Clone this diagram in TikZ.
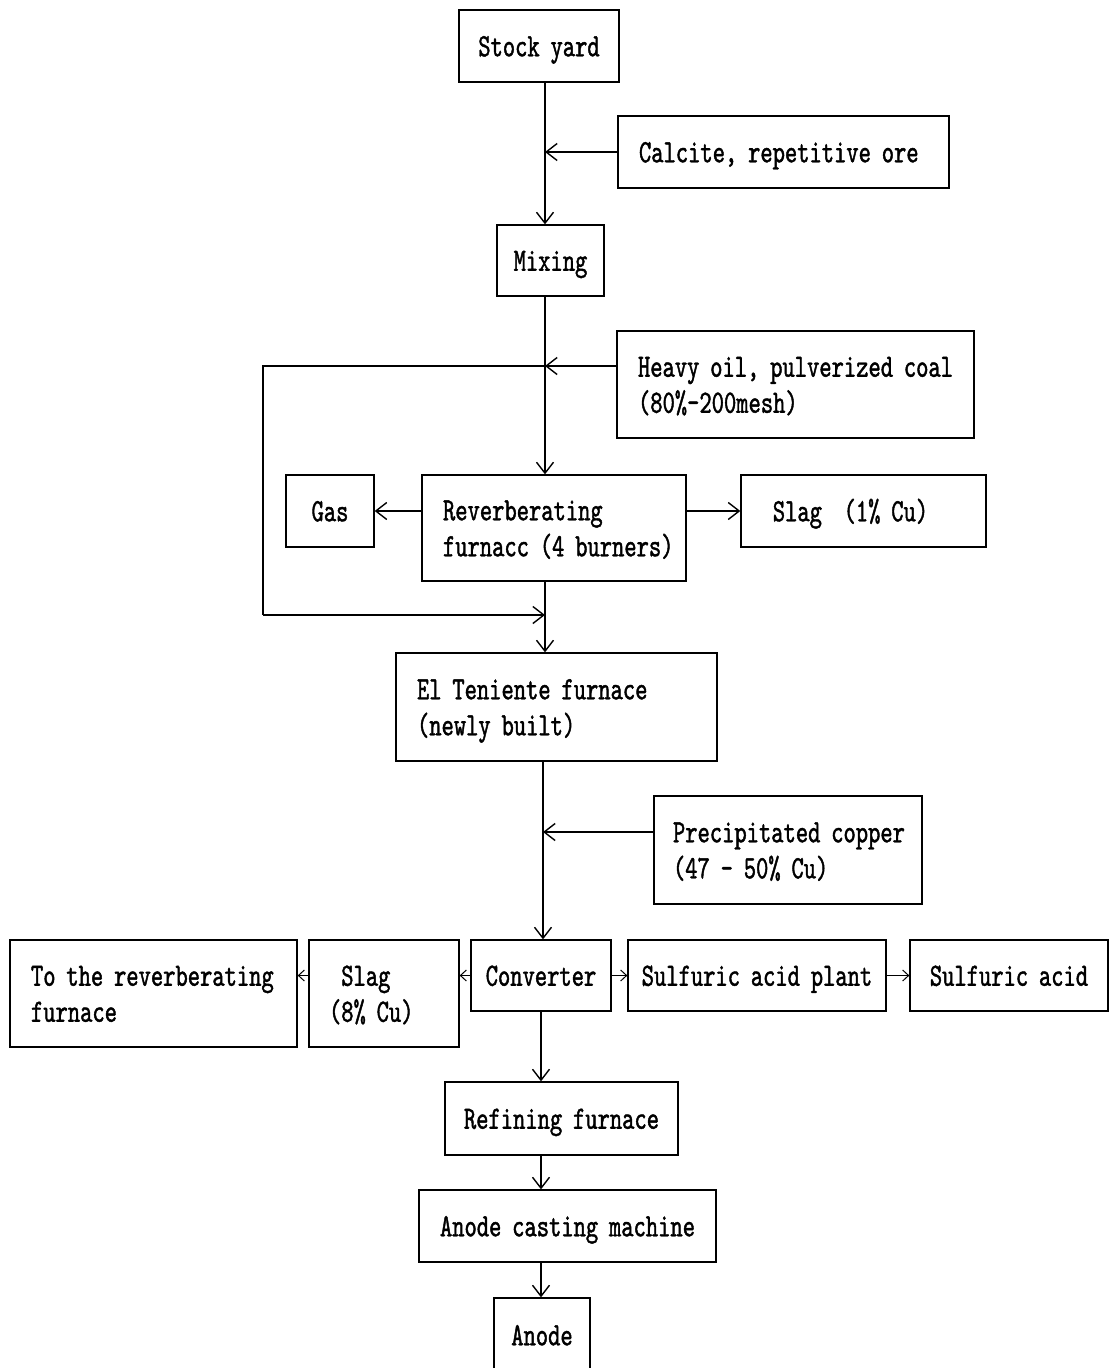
\documentclass[tikz,border=0pt]{standalone}
\usepackage{fontspec}
\usetikzlibrary{arrows.meta,calc}
\newfontfamily\diagfontface[FakeStretch=0.72,FakeBold=1.3]{lmmono10-regular.otf}
\newcommand{\diagfont}{\diagfontface\fontsize{32.5}{36}\selectfont}
\begin{document}
\begin{tikzpicture}[x=1pt,y=-1pt,
  box/.style={draw, line width=1.3pt, inner ysep=0pt, font=\diagfont,
    execute at begin node={\rule{0pt}{30.5pt}},
    execute at end node={\rule[-10pt]{0pt}{10pt}}},
  cbox/.style={box, inner xsep=0pt, align=center},
  lbox/.style={box, inner xsep=21pt, align=left},
  ln/.style={line width=1.4pt},
  arr/.style={ln, -{Straight Barb[length=11pt,width=17pt]}},
  sarr/.style={line width=1pt, -{Straight Barb[length=6pt,width=11pt]}}
]
\useasboundingbox (0,0) rectangle (1109,1368);
\fill[white] (0,0) rectangle (1109,1368);

\coordinate (m1) at (545,0);
\coordinate (m2) at (543,0);
\coordinate (m3) at (541,0);
\coordinate (loopx) at (263,0);
\coordinate (jn) at (545,615);

% boxes
\node[cbox, minimum width=160, minimum height=72, text width=160pt] (stock) at (539,46) {Stock yard};
\node[lbox, minimum width=331, minimum height=72, text width=289pt] (calcite) at (783.5,152) {\mbox{Calcite, repetitive ore}};
\node[cbox, minimum width=107, minimum height=71, text width=107pt] (mixing) at (550.5,260.5) {Mixing};
\node[lbox, minimum width=357, minimum height=107, text width=315pt] (heavy) at (795.5,384.5) {\mbox{Heavy oil, pulverized coal}\\\mbox{(80\%-200mesh)}};
\node[lbox, minimum width=264, minimum height=106, text width=222pt] (reverb) at (554,528) {\mbox{Reverberating}\\\mbox{furnacc (4 burners)}};
\node[cbox, minimum width=88, minimum height=72, text width=88pt] (gas) at (330,511) {Gas};
\node[lbox, minimum width=245, minimum height=72, text width=203pt, inner xsep=21pt] (slagA) at (863.5,511) {\mbox{\ Slag\ \ (1\% Cu)}};
\node[lbox, minimum width=321, minimum height=108, text width=279pt] (eltn) at (556.5,707) {\mbox{El Teniente furnace}\\\mbox{(newly built)}};
\node[lbox, minimum width=268, minimum height=108, text width=230pt, inner xsep=19pt] (precip) at (788,850) {\mbox{Precipitated copper}\\\mbox{(47 - 50\% Cu)}};
\node[lbox, minimum width=287, minimum height=107, text width=245pt] (toreverb) at (153.5,993.5) {\mbox{To the reverberating}\\\mbox{furnace}};
\node[lbox, minimum width=150, minimum height=107, text width=110pt, inner xsep=20pt] (slagB) at (384,993.5) {\mbox{\hphantom{(}Slag}\\\mbox{(8\% Cu)}};
\node[cbox, minimum width=140, minimum height=71, text width=140pt] (conv) at (541,975.5) {Converter};
\node[cbox, minimum width=258, minimum height=71, text width=258pt] (plant) at (757,975.5) {Sulfuric acid plant};
\node[cbox, minimum width=198, minimum height=71, text width=198pt] (acid) at (1009,975.5) {Sulfuric acid};
\node[cbox, minimum width=233, minimum height=73, text width=233pt] (refining) at (561.5,1118.5) {Refining furnace};
\node[cbox, minimum width=297, minimum height=72, text width=297pt] (casting) at (567.5,1226) {Anode casting machine};
\node[cbox, minimum width=96, minimum height=74, text width=96pt] (anode) at (542,1335) {Anode};

% connectors
\draw[arr] (stock.south -| m1) -- (mixing.north -| m1);
\draw[arr] (calcite.west) -- (calcite.west -| m1);
\draw[arr] (mixing.south -| m1) -- (reverb.north -| m1);
\coordinate (hin) at ($(heavy.west)+(0,-18.5)$);
\draw[arr] (hin) -- (hin -| m1);
\draw[ln] (hin -| m1) -- (hin -| loopx) -- (loopx |- jn);
\draw[arr] (loopx |- jn) -- (jn);
\draw[arr] (gas.east -| reverb.west) -- (gas.east);
\draw[arr] (slagA.west -| reverb.east) -- (slagA.west);
\draw[arr] (reverb.south -| m1) -- (eltn.north -| m1);
\draw[arr] (eltn.south -| m2) -- (conv.north -| m2);
\coordinate (pin) at ($(precip.west)+(0,-18)$);
\draw[arr] (pin) -- (pin -| m2);
\draw[sarr] (conv.west) -- (conv.west -| slagB.east);
\draw[sarr] (conv.west -| slagB.west) -- (conv.west -| toreverb.east);
\draw[sarr] (conv.east) -- (plant.west);
\draw[sarr] (plant.east) -- (acid.west);
\draw[arr] (conv.south -| m3) -- (refining.north -| m3);
\draw[arr] (refining.south -| m3) -- (casting.north -| m3);
\draw[arr] (casting.south -| m3) -- (anode.north -| m3);
\end{tikzpicture}
\end{document}
